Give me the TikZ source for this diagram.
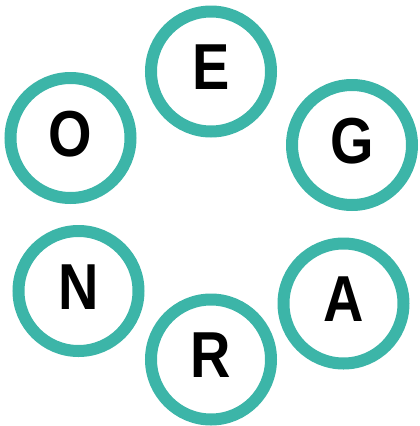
\documentclass[tikz,border=0pt]{standalone}
\usepackage{fontspec}
\setmainfont{Liberation Sans}
\definecolor{teal1}{RGB}{60,181,168}
\newcommand\narrowltr[1]{\scalebox{0.86}[1]{#1}}
\begin{document}
\begin{tikzpicture}[x=1pt,y=-1pt,
  ring/.style={circle,draw=teal1,line width=12pt,minimum size=120pt,inner sep=0pt},
  letter/.style={font=\fontsize{65}{65}\selectfont\bfseries,inner sep=0pt,yshift=4pt}]
\useasboundingbox (0,0) rectangle (420,426);
\node[ring] (cE) at (211,71.5) {};
\node[ring] (cO) at (70.5,138) {};
\node[ring] (cG) at (352,145) {};
\node[ring] (cN) at (78.5,291) {};
\node[ring] (cA) at (343.5,303.5) {};
\node[ring] (cR) at (211,359.5) {};
\node[letter] (lE) at (cE) {\narrowltr{E}};
\node[letter] (lO) at (cO) {\narrowltr{O}};
\node[letter] (lG) at (cG) {\narrowltr{G}};
\node[letter] (lN) at (cN) {\narrowltr{N}};
\node[letter] (lA) at (cA) {\narrowltr{A}};
\node[letter] (lR) at (cR) {\narrowltr{R}};
\end{tikzpicture}
\end{document}
